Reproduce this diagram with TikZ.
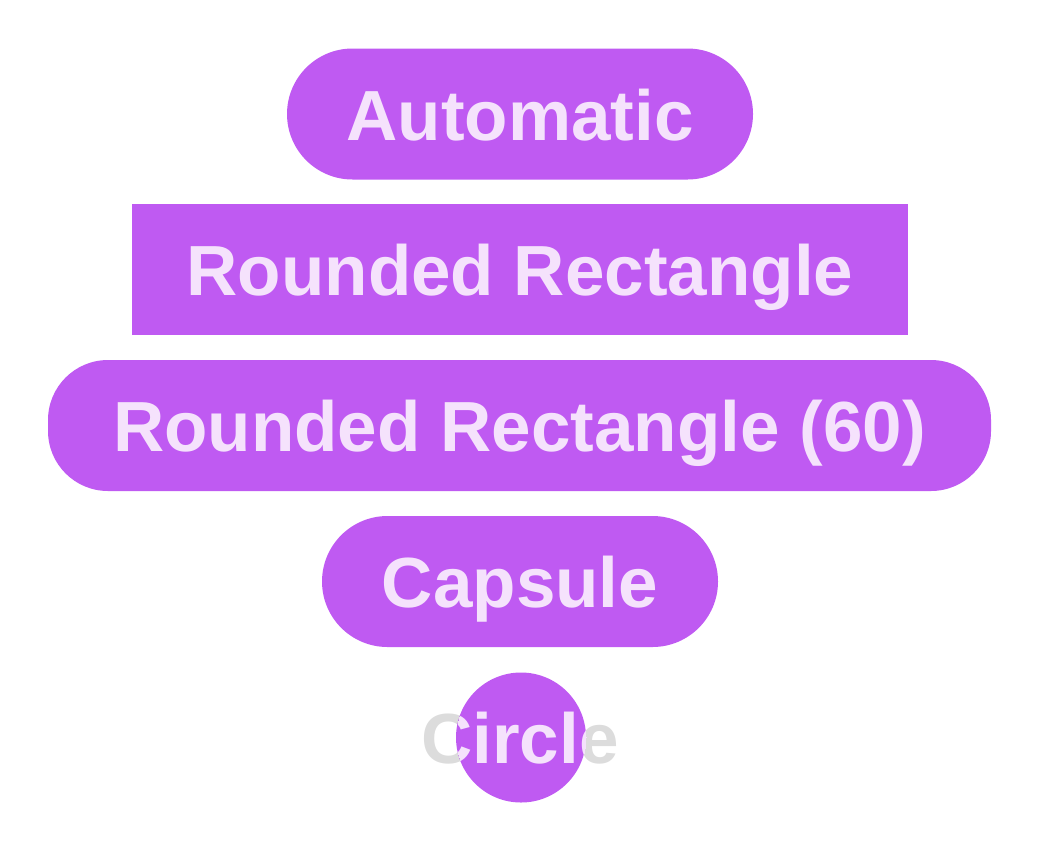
\documentclass[tikz,border=0pt]{standalone}
\usepackage{fontspec}
\setmainfont{Liberation Sans}
\definecolor{pfill}{HTML}{BF5AF2}
\definecolor{ptext}{HTML}{F5E2FC}
\definecolor{gtext}{HTML}{DCDCDC}
\begin{document}
\begin{tikzpicture}[x=1pt,y=-1pt,
  shapebox/.style={fill=pfill,draw=none,inner sep=0pt,minimum height=131pt},
  lbl/.style={text=ptext,font=\fontsize{71}{80}\selectfont\bfseries,anchor=base,inner sep=0pt}]
\useasboundingbox (0,0) rectangle (1040,852);
\node[shapebox,minimum width=466pt,rounded corners=65.5pt] (auto) at (520,114) {};
\node[lbl] (autot) at (520,140) {Automatic};
\node[shapebox,minimum width=776pt] (rr) at (520,269.5) {};
\node[lbl] (rrt) at (520,295.5) {Rounded Rectangle};
\node[shapebox,minimum width=943pt,rounded corners=60pt] (rr60) at (519.5,425.5) {};
\node[lbl] (rr60t) at (519.5,451.5) {Rounded Rectangle (60)};
\node[shapebox,minimum width=396pt,rounded corners=65.5pt] (cap) at (520,581.5) {};
\node[lbl] (capt) at (520,607.5) {Capsule};
\node[lbl,text=gtext] (circg) at (520,763) {Circle};
\node[circle,fill=pfill,inner sep=0pt,minimum size=130pt] (circ) at (521,737.5) {};
\begin{scope}
\clip (521,737.5) circle (65pt);
\node[lbl] (circt) at (520,763) {Circle};
\end{scope}
\end{tikzpicture}
\end{document}
